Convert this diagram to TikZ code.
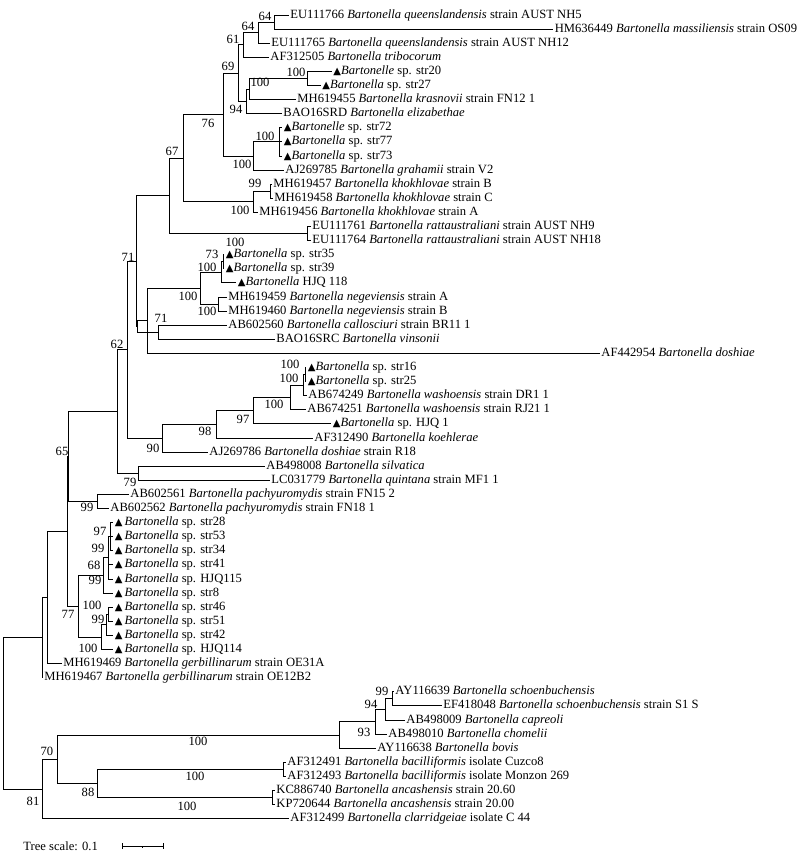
\documentclass[tikz,border=0pt]{standalone}
\usepackage{fontspec}
\setmainfont{Liberation Serif}
\newfontfamily\symfont{DejaVu Sans}
\newcommand{\tri}{{\symfont\fontsize{10}{10}\selectfont ▲}}
\newcommand{\bt}{\textit{Bartonella}}
\begin{document}
\begin{tikzpicture}[x=1pt,y=-1pt,line width=0.9pt,
  leaf/.style={anchor=west,inner xsep=1.5pt,inner ysep=0pt,text height=9pt,text depth=3pt,font=\fontsize{12.6}{14}\selectfont},
  bs/.style={inner sep=0pt,text height=9pt,text depth=3pt,font=\fontsize{12.6}{14}\selectfont}]
\path[fill=white] (0,0) rectangle (802,855);
\useasboundingbox (0,0) rectangle (802,855);
% ---- leaves ----
\node[leaf] (L0) at (288.5,15) {EU111766 \textit{Bartonella queenslandensis} strain AUST NH5};
\node[leaf,anchor=east] (L1) at (799,29.1) {HM636449 \textit{Bartonella massiliensis} strain OS09};
\node[leaf] (L2) at (269.5,43.2) {EU111765 \textit{Bartonella queenslandensis} strain AUST NH12};
\node[leaf] (L3) at (268.5,57.3) {AF312505 \textit{Bartonella tribocorum}};
\node[leaf] (L4) at (331.5,71.4) {\tri\textit{Bartonelle} sp. str20};
\node[leaf] (L5) at (320.5,85.5) {\tri\bt{} sp. str27};
\node[leaf] (L6) at (295.5,99.6) {MH619455 \textit{Bartonella krasnovii} strain FN12 1};
\node[leaf] (L7) at (281.5,113.7) {BAO16SRD \textit{Bartonella elizabethae}};
\node[leaf] (L8) at (282,127.8) {\tri\textit{Bartonelle} sp. str72};
\node[leaf] (L9) at (282,141.9) {\tri\bt{} sp. str77};
\node[leaf] (L10) at (282,156) {\tri\bt{} sp. str73};
\node[leaf] (L11) at (283.5,170.1) {AJ269785 \textit{Bartonella grahamii} strain V2};
\node[leaf] (L12) at (271.5,184.2) {MH619457 \textit{Bartonella khokhlovae} strain B};
\node[leaf] (L13) at (272.5,198.3) {MH619458 \textit{Bartonella khokhlovae} strain C};
\node[leaf] (L14) at (257.5,212.4) {MH619456 \textit{Bartonella khokhlovae} strain A};
\node[leaf] (L15) at (310.5,226.5) {EU111761 \textit{Bartonella rattaustraliani} strain AUST NH9};
\node[leaf] (L16) at (310.5,240.6) {EU111764 \textit{Bartonella rattaustraliani} strain AUST NH18};
\node[leaf] (L17) at (224,254.7) {\tri\bt{} sp. str35};
\node[leaf] (L18) at (224,268.8) {\tri\bt{} sp. str39};
\node[leaf] (L19) at (236,282.9) {\tri\bt{} HJQ 118};
\node[leaf] (L20) at (226.5,297) {MH619459 \textit{Bartonella negeviensis} strain A};
\node[leaf] (L21) at (226.5,311.1) {MH619460 \textit{Bartonella negeviensis} strain B};
\node[leaf] (L22) at (226.5,325.2) {AB602560 \textit{Bartonella callosciuri} strain BR11 1};
\node[leaf] (L23) at (274.5,339.3) {BAO16SRC \textit{Bartonella vinsonii}};
\node[leaf] (L24) at (599.5,353.4) {AF442954 \textit{Bartonella doshiae}};
\node[leaf] (L25) at (306,367.5) {\tri\bt{} sp. str16};
\node[leaf] (L26) at (306,381.6) {\tri\bt{} sp. str25};
\node[leaf] (L27) at (306.5,395.7) {AB674249 \textit{Bartonella washoensis} strain DR1 1};
\node[leaf] (L28) at (305.5,409.8) {AB674251 \textit{Bartonella washoensis} strain RJ21 1};
\node[leaf] (L29) at (331,423.9) {\tri\bt{} sp. HJQ 1};
\node[leaf] (L30) at (312.5,438) {AF312490 \textit{Bartonella koehlerae}};
\node[leaf] (L31) at (207.5,452.1) {AJ269786 \textit{Bartonella doshiae} strain R18};
\node[leaf] (L32) at (264.5,466.2) {AB498008 \textit{Bartonella silvatica}};
\node[leaf] (L33) at (269.5,480.3) {LC031779 \textit{Bartonella quintana} strain MF1 1};
\node[leaf] (L34) at (128.5,494.4) {AB602561 \textit{Bartonella pachyuromydis} strain FN15 2};
\node[leaf] (L35) at (108.5,508.5) {AB602562 \textit{Bartonella pachyuromydis} strain FN18 1};
\node[leaf] (L36) at (113,522.6) {\tri\,\bt{} sp. str28};
\node[leaf] (L37) at (113,536.7) {\tri\,\bt{} sp. str53};
\node[leaf] (L38) at (113,550.8) {\tri\,\bt{} sp. str34};
\node[leaf] (L39) at (113,564.9) {\tri\,\bt{} sp. str41};
\node[leaf] (L40) at (113,579) {\tri\,\bt{} sp. HJQ115};
\node[leaf] (L41) at (113,593.1) {\tri\,\bt{} sp. str8};
\node[leaf] (L42) at (113,607.2) {\tri\,\bt{} sp. str46};
\node[leaf] (L43) at (113,621.3) {\tri\,\bt{} sp. str51};
\node[leaf] (L44) at (113,635.4) {\tri\,\bt{} sp. str42};
\node[leaf] (L45) at (113,649.5) {\tri\,\bt{} sp. HJQ114};
\node[leaf] (L46) at (61.5,663.6) {MH619469 \textit{Bartonella gerbillinarum} strain OE31A};
\node[leaf] (L47) at (42.5,677.7) {MH619467 \textit{Bartonella gerbillinarum} strain OE12B2};
\node[leaf] (L48) at (393.5,691.8) {AY116639 \textit{Bartonella schoenbuchensis}};
\node[leaf] (L49) at (441.5,705.9) {EF418048 \textit{Bartonella schoenbuchensis} strain S1 S};
\node[leaf] (L50) at (404.5,720) {AB498009 \textit{Bartonella capreoli}};
\node[leaf] (L51) at (386.5,734.1) {AB498010 \textit{Bartonella chomelii}};
\node[leaf] (L52) at (375.5,748.2) {AY116638 \textit{Bartonella bovis}};
\node[leaf] (L53) at (285.5,762.3) {AF312491 \textit{Bartonella bacilliformis} isolate Cuzco8};
\node[leaf] (L54) at (285.5,776.4) {AF312493 \textit{Bartonella bacilliformis} isolate Monzon 269};
\node[leaf] (L55) at (274.5,790.5) {KC886740 \textit{Bartonella ancashensis} strain 20.60};
\node[leaf] (L56) at (274.5,804.6) {KP720644 \textit{Bartonella ancashensis} strain 20.00};
\node[leaf] (L57) at (288.5,818.7) {AF312499 \textit{Bartonella clarridgeiae} isolate C 44};
% ---- internal nodes ----
\coordinate (na) at (274,22.05);
\coordinate (nb) at (258,32.6);
\coordinate (nc) at (243,44.9);
\coordinate (ne) at (307,78.45);
\coordinate (nf) at (249,89);
\coordinate (nh) at (246,101.4);
\coordinate (nX) at (238,73.2);
\coordinate (nj) at (279,141.9);
\coordinate (nk) at (253,156);
\coordinate (ng) at (223,114.6);
\coordinate (nl) at (270,191.25);
\coordinate (nm) at (253,201.8);
\coordinate (ni) at (183,158.2);
\coordinate (nn) at (307,233.55);
\coordinate (nQ) at (169,195.9);
\coordinate (A1) at (223,261.75);
\coordinate (A2) at (221,272.3);
\coordinate (MHn) at (218,304.05);
\coordinate (nB) at (200,288.2);
\coordinate (nC) at (147,320.8);
\coordinate (n71b) at (158,332.25);
\coordinate (nF) at (137,326.5);
\coordinate (n71) at (136,261.2);
\coordinate (W1) at (305,374.55);
\coordinate (W2) at (303,385.1);
\coordinate (W3) at (290,397.5);
\coordinate (W4) at (253,410.7);
\coordinate (W5) at (216,424.35);
\coordinate (n90) at (162,438.2);
\coordinate (n62b) at (127,349.7);
\coordinate (n79) at (138,473.25);
\coordinate (n62) at (117,411.5);
\coordinate (nAB) at (97,501.45);
\coordinate (n65) at (68,456.5);
\coordinate (Gup) at (110,536.7);
\coordinate (Gmid) at (108,557.85);
\coordinate (Groot) at (103,575.5);
\coordinate (H1) at (108,614.25);
\coordinate (H2) at (106,624.8);
\coordinate (H3) at (101,637.2);
\coordinate (n77) at (78,606.3);
\coordinate (nR3) at (67,531.4);
\coordinate (nR2) at (47,597.5);
\coordinate (nR1) at (42,637.6);
\coordinate (n99) at (392,698.85);
\coordinate (n94) at (385,709.4);
\coordinate (n93) at (375,721.8);
\coordinate (nS) at (339,735);
\coordinate (nAF) at (283,769.35);
\coordinate (nKC) at (272,797.55);
\coordinate (n88) at (97,783.45);
\coordinate (n70) at (57,759.2);
\coordinate (n81) at (42,789);
\coordinate (root) at (3,713.3);
% ---- branches ----
\foreach \p/\c in {na/L0.west,na/L1.west,nb/na,nb/L2.west,nc/nb,nc/L3.west,
  ne/L4.west,ne/L5.west,nf/ne,nf/L6.west,nh/nf,nh/L7.west,nX/nc,nX/nh,
  nj/L8.west,nj/L9.west,nj/L10.west,nk/nj,nk/L11.west,ng/nX,ng/nk,
  nl/L12.west,nl/L13.west,nm/nl,nm/L14.west,ni/ng,ni/nm,
  nn/L15.west,nn/L16.west,nQ/ni,nQ/nn,
  A1/L17.west,A1/L18.west,A2/A1,A2/L19.west,MHn/L20.west,MHn/L21.west,
  nB/A2,nB/MHn,nC/nB,nC/L24.west,n71b/L22.west,n71b/L23.west,
  nF/nC,nF/n71b,n71/nQ,n71/nF,
  W1/L25.west,W1/L26.west,W2/W1,W2/L27.west,W3/W2,W3/L28.west,
  W4/W3,W4/L29.west,W5/W4,W5/L30.west,n90/W5,n90/L31.west,
  n62b/n71,n62b/n90,n79/L32.west,n79/L33.west,n62/n62b,n62/n79,
  nAB/L34.west,nAB/L35.west,n65/n62,n65/nAB,
  Gup/L36.west,Gup/L37.west,Gup/L38.west,Gmid/Gup,Gmid/L39.west,Gmid/L40.west,
  Groot/Gmid,Groot/L41.west,H1/L42.west,H1/L43.west,H2/H1,H2/L44.west,
  H3/H2,H3/L45.west,n77/Groot,n77/H3,nR3/n65,nR3/n77,nR2/nR3,nR2/L46.west,
  nR1/nR2,nR1/L47.west,
  n99/L48.west,n99/L49.west,n94/n99,n94/L50.west,n93/n94,n93/L51.west,
  nS/n93,nS/L52.west,nAF/L53.west,nAF/L54.west,nKC/L55.west,nKC/L56.west,
  n88/nAF,n88/nKC,n70/nS,n70/n88,n81/n70,n81/L57.west,root/nR1,root/n81}
  {\draw (\p) |- (\c);}
% ---- support values ----
\node[bs] (b1) at (265,17) {64};
\node[bs] (b2) at (248,27) {64};
\node[bs] (b3) at (233,40) {61};
\node[bs] (b4) at (228,67) {69};
\node[bs] (b5) at (296,73) {100};
\node[bs] (b6) at (260,83) {100};
\node[bs] (b7) at (236,110) {94};
\node[bs] (b8) at (208,124) {76};
\node[bs] (b9) at (265,137) {100};
\node[bs] (b10) at (242,165) {100};
\node[bs] (b11) at (255,184) {99};
\node[bs] (b12) at (240,211) {100};
\node[bs] (b13) at (172,152) {67};
\node[bs] (b14) at (235,243) {100};
\node[bs] (b15) at (212,255) {73};
\node[bs] (b16) at (207,268) {100};
\node[bs] (b17) at (188,297) {100};
\node[bs] (b18) at (207,312) {100};
\node[bs] (b19) at (128,258) {71};
\node[bs] (b20) at (161,319) {71};
\node[bs] (b21) at (117,345) {62};
\node[bs] (b22) at (290,365) {100};
\node[bs] (b23) at (289,379) {100};
\node[bs] (b24) at (274,405) {100};
\node[bs] (b25) at (243,420) {97};
\node[bs] (b26) at (205,432) {98};
\node[bs] (b27) at (153,449) {90};
\node[bs] (b28) at (130,483) {79};
\node[bs] (b29) at (62,452) {65};
\node[bs] (b30) at (87,508) {99};
\node[bs] (b31) at (100,532) {97};
\node[bs] (b32) at (98,549) {99};
\node[bs] (b33) at (94,566) {68};
\node[bs] (b34) at (95,581) {99};
\node[bs] (b35) at (92,606) {100};
\node[bs] (b36) at (98,620) {99};
\node[bs] (b37) at (88,649) {100};
\node[bs] (b38) at (68,615) {77};
\node[bs] (b39) at (382,692) {99};
\node[bs] (b40) at (371,705) {94};
\node[bs] (b41) at (364,733) {93};
\node[bs] (b42) at (198,742) {100};
\node[bs] (b43) at (47,752) {70};
\node[bs] (b44) at (195,777) {100};
\node[bs] (b45) at (88,793) {88};
\node[bs] (b46) at (187,807) {100};
\node[bs] (b47) at (33,802) {81};
% ---- scale ----
\node[leaf] (ts) at (21.5,847) {Tree scale: 0.1};
\coordinate (s1) at (122,846);
\coordinate (s2) at (163,846);
\coordinate (sm) at (142.5,846);
\draw (s1) -- (s2);
\draw ([yshift=3pt]s1) -- ([yshift=-3pt]s1);
\draw ([yshift=3pt]s2) -- ([yshift=-3pt]s2);
\draw (sm) -- ([yshift=-1.5pt]sm);
\end{tikzpicture}
\end{document}
